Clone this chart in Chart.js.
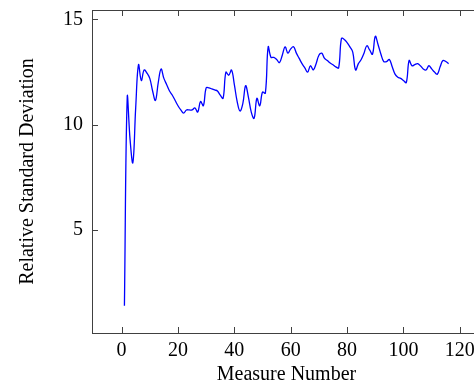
<!DOCTYPE html>
<html>
<head>
<meta charset="utf-8">
<script src="https://cdn.jsdelivr.net/npm/chart.js@4"></script>
<style>
  html, body { margin: 0; padding: 0; background: #fff; overflow: hidden; }
  /* plot box runs past the right edge of the window, like the cropped figure */
  #wrap { width: 520px; height: 385px; }
</style>
</head>
<body>
<div id="wrap"><canvas id="c" width="520" height="385"></canvas></div>
<script>
  /* ---------- data ---------- */
  var rsd = [
    1.4, 11.3, 9.3, 8.2, 10.8, 12.85, 12.1, 12.6, 12.45, 12.2,
    11.6, 11.15, 12.0, 12.65, 12.2, 11.9, 11.6, 11.4, 11.15, 10.9,
    10.7, 10.55, 10.7, 10.7, 10.7, 10.8, 10.6, 11.1, 10.9, 11.75,
    11.75, 11.7, 11.65, 11.6, 11.4, 11.25, 12.5, 12.35, 12.6, 11.9,
    11.1, 10.65, 11.0, 11.85, 11.3, 10.6, 10.3, 11.25, 10.9, 11.55,
    11.5, 13.7, 13.2, 13.2, 13.1, 12.95, 13.3, 13.7, 13.4, 13.6,
    13.7, 13.4, 13.15, 12.9, 12.7, 12.5, 12.8, 12.6, 12.9, 13.3,
    13.4, 13.15, 13.05, 12.93, 12.85, 12.75, 12.7, 14.1, 14.05, 13.9,
    13.7, 13.45, 12.6, 12.9, 13.1, 13.4, 13.75, 13.55, 13.35, 14.2,
    13.8, 13.35, 13.0, 13.0, 13.1, 12.75, 12.4, 12.25, 12.2, 12.1,
    12.0, 13.05, 12.8, 12.85, 12.9, 12.8, 12.65, 12.6, 12.8, 12.65,
    12.5, 12.4, 12.75, 13.05, 13.0, 12.9
  ];
  var xTicks = [0, 20, 40, 60, 80, 100, 120];
  var yTicks = [5, 10, 15];

  var FONT = { family: "'Liberation Serif', 'DejaVu Serif', serif", size: 20 };
  var INK = "#000";
  var FRAME = "#404040";

  // measure number is just the position in the list (1-based)
  var points = rsd.map(function (v, i) { return { x: i + 1, y: v }; });

  /* ---------- pgfplots-style frame with inward ticks ---------- */
  var framePlugin = {
    id: "frame",
    afterDraw: function (chart) {
      var a = chart.chartArea, ctx = chart.ctx;
      var sx = chart.scales.x, sy = chart.scales.y;
      var len = 6;
      ctx.save();
      ctx.strokeStyle = FRAME;
      ctx.lineWidth = 1;
      ctx.strokeRect(a.left + 0.5, a.top + 0.5, a.right - a.left, a.bottom - a.top);
      ctx.beginPath();
      xTicks.forEach(function (v) {
        var px = Math.round(sx.getPixelForValue(v)) + 0.5;
        ctx.moveTo(px, a.bottom); ctx.lineTo(px, a.bottom - len);
        ctx.moveTo(px, a.top); ctx.lineTo(px, a.top + len);
      });
      yTicks.forEach(function (v) {
        var py = Math.round(sy.getPixelForValue(v)) + 0.5;
        ctx.moveTo(a.left, py); ctx.lineTo(a.left + len, py);
        ctx.moveTo(a.right, py); ctx.lineTo(a.right - len, py);
      });
      ctx.stroke();
      ctx.restore();
    }
  };

  new Chart(document.getElementById("c"), {
    type: "line",
    data: {
      datasets: [{
        data: points,
        borderColor: "#0000ff",
        borderWidth: 1.3,
        pointRadius: 0,
        fill: false,
        tension: 0.4
      }]
    },
    options: {
      responsive: false,
      animation: false,
      layout: { padding: { top: 10, right: 39, bottom: 0, left: 0 } },
      plugins: { legend: { display: false }, tooltip: { enabled: false } },
      scales: {
        x: {
          type: "linear",
          min: -10.5,
          max: 127.5,
          afterBuildTicks: function (s) { s.ticks = xTicks.map(function (v) { return { value: v }; }); },
          afterFit: function (s) { s.height = 52; s.paddingLeft = 0; s.paddingRight = 0; },
          grid: { display: false, drawTicks: false },
          border: { display: false },
          ticks: { color: INK, font: FONT, padding: 6, maxRotation: 0 },
          title: {
            display: true, text: "Measure Number", color: INK,
            font: { family: FONT.family, size: 20, lineHeight: 1 },
            padding: { top: 0, bottom: 0 }
          }
        },
        y: {
          min: 0.1,
          max: 15.45,
          afterBuildTicks: function (s) { s.ticks = yTicks.map(function (v) { return { value: v }; }); },
          afterFit: function (s) { s.width = 92; s.paddingTop = 0; s.paddingBottom = 0; },
          grid: { display: false, drawTicks: false },
          border: { display: false },
          ticks: { color: INK, font: FONT, padding: 9 },
          title: { display: true, text: "Relative Standard Deviation", color: INK, font: FONT, padding: { top: 16, bottom: 0 } }
        }
      }
    },
    plugins: [framePlugin]
  });
</script>
</body>
</html>
